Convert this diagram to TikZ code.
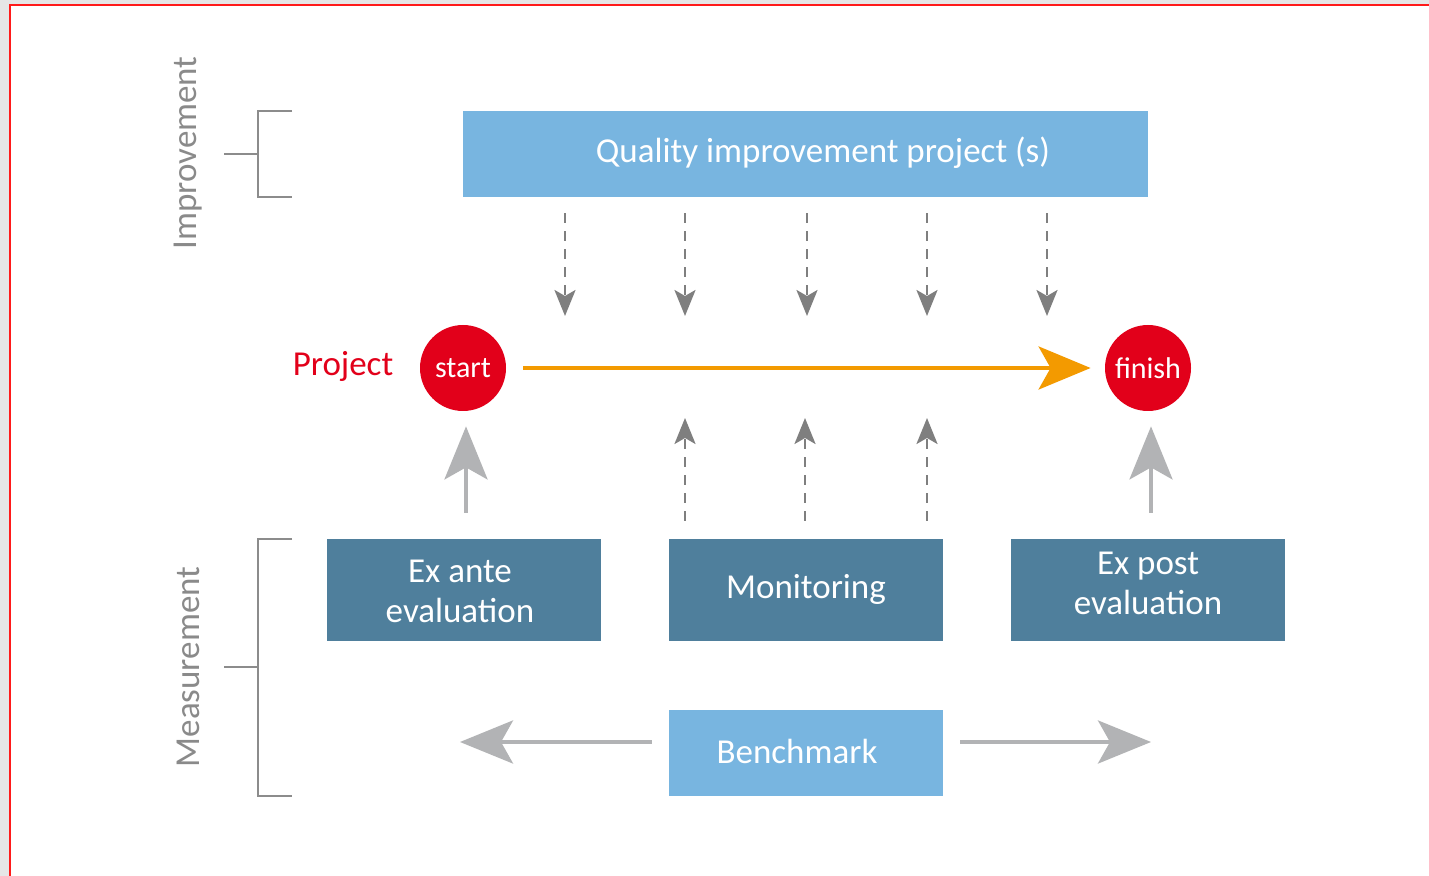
\documentclass[tikz,border=0pt]{standalone}
\usepackage{fontspec}
\setmainfont{Carlito}
\usetikzlibrary{arrows.meta,calc}
\definecolor{bggray}{HTML}{E6E6E6}
\definecolor{frame}{HTML}{FF1A1A}
\definecolor{lightblue}{HTML}{78B5E0}
\definecolor{steel}{HTML}{4F7F9C}
\definecolor{pred}{HTML}{E2001A}
\definecolor{porange}{HTML}{F39A00}
\definecolor{darkarrow}{HTML}{7F7F7F}
\definecolor{lightarrow}{HTML}{B2B3B5}
\definecolor{bracketgray}{HTML}{8C8C8C}
\definecolor{labelgray}{HTML}{8A8A8A}
\tikzset{
  bigfont/.style={font=\fontsize{17.5}{20}\selectfont},
  lbox/.style={fill=lightblue, draw=none, minimum width=342.5pt, minimum height=43pt, inner sep=0pt},
  sbox/.style={fill=steel, draw=none, minimum width=137pt, minimum height=51pt, inner sep=0pt},
  boxtext/.style={text=white, bigfont, align=center, inner sep=0pt},
  redcirc/.style={circle, fill=pred, text=white, minimum size=43pt, inner sep=0pt, font=\fontsize{15}{18}\selectfont},
  dasharrow/.style={draw=darkarrow, line width=1.3pt, dash pattern=on 5pt off 4pt, -{Stealth[length=13pt, width=10.5pt, inset=3pt]}},
  grayarrow/.style={draw=lightarrow, line width=2pt, -{Stealth[length=26.5pt, width=21.5pt, inset=6pt]}},
  orangearrow/.style={draw=porange, line width=2pt, -{Stealth[length=26pt, width=21.5pt, inset=6pt]}},
  bracket/.style={draw=bracketgray, line width=1pt},
  sidelabel/.style={text=labelgray, rotate=90, bigfont, inner sep=0pt},
}
\begin{document}
\begin{tikzpicture}[x=0.5pt,y=-0.5pt]
\useasboundingbox (0,0) rectangle (1429,876);
\fill[bggray] (0,0) rectangle (1429,876);
\fill[white] (9,5) rectangle (1429,876);
\draw[frame, line width=1pt] (9.5,876) -- (9.5,5) -- (1429,5);

% side labels and brackets
\node[sidelabel] (impl) at (188,153) {Improvement};
\node[sidelabel] (meal) at (188,667) {Measurement};
\draw[bracket] (224,154) -- (258,154);
\draw[bracket] (292,111) -- (258,111) -- (258,197) -- (292,197);
\draw[bracket] (224,667) -- (258,667);
\draw[bracket] (292,539) -- (258,539) -- (258,796) -- (292,796);

% top box
\node[lbox] (quality) at (805.5,154) {};
\node[boxtext] (qualityt) at (823,153) {Quality improvement project (s)};

% project line
\node[text=pred, bigfont, inner sep=0pt] (project) at (343,366) {Project};
\node[redcirc] (start) at (463,368) {start};
\node[redcirc] (finish) at (1148,368) {finish};
\draw[orangearrow] ([xshift=8.5pt]start.east) -- ([xshift=-7pt]finish.west);

% dashed down arrows
\foreach \x [count=\i] in {565,685,807,927,1047}{
  \coordinate (d\i) at (\x,316);
  \draw[dasharrow] ($(quality.south -| d\i)+(0,16)$) -- (d\i);
}

% bottom boxes
\node[sbox] (exante) at (463.5,590) {};
\node[sbox] (monitor) at (806,590) {};
\node[sbox] (expost) at (1148,590) {};
\node[boxtext] (exantet) at (460,591) {Ex ante\\evaluation};
\node[boxtext] (monitort) at (806,589) {Monitoring};
\node[boxtext] (expostt) at (1148,583) {Ex post\\evaluation};
\node[lbox, minimum width=137pt] (bench) at (806,753) {};
\node[boxtext] (bencht) at (797,751) {Benchmark};

% dashed up arrows
\foreach \x [count=\i] in {685,805,927}{
  \coordinate (u\i) at (\x,418);
  \draw[dasharrow] ($(monitor.north -| u\i)+(0,-18)$) -- (u\i);
}

% solid up arrows
\coordinate (ea) at (466,513);
\coordinate (ep) at (1151,513);
\draw[grayarrow] (ea) -- ($(start.south -| ea)+(0,15)$);
\draw[grayarrow] (ep) -- ($(finish.south -| ep)+(0,15)$);

% benchmark arrows
\coordinate (bl) at (460,742);
\coordinate (br) at (1151,742);
\draw[grayarrow] ($(bench.west |- bl)+(-17,0)$) -- (bl);
\draw[grayarrow] ($(bench.east |- br)+(17,0)$) -- (br);
\end{tikzpicture}
\end{document}
